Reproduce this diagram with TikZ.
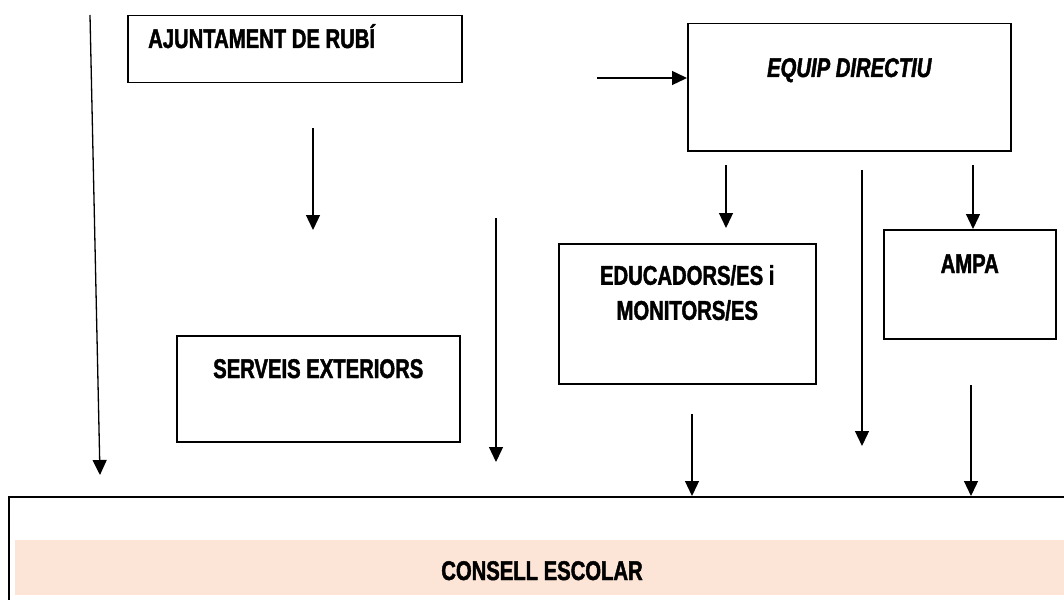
\documentclass[tikz,border=0pt]{standalone}
\usepackage{fontspec}
\setmainfont{Liberation Sans}[FakeStretch=0.75, FakeBold=1.6]
\usetikzlibrary{arrows.meta}
\definecolor{consellfill}{HTML}{FCE4D6}

\begin{document}
\begin{tikzpicture}[x=1pt, y=-1pt,
   font=\fontsize{27}{35}\selectfont\bfseries,
   box/.style={draw, rectangle, line width=1.5pt, inner sep=0pt, anchor=north west},
   arr/.style={-{Triangle[width=14pt,length=15pt]}, line width=1.3pt},
   every label/.style={inner sep=0pt, anchor=base},
   label distance=0pt]

\useasboundingbox (0,0) rectangle (1064,599);

\node[box, minimum width=334pt, minimum height=67pt,
      label={[anchor=base west, xshift=21pt, yshift=-33pt]north west:AJUNTAMENT DE RUBÍ}]
      (ajuntament) at (127,15) {};
\node[box, minimum width=323pt, minimum height=127pt,
      label={[yshift=-54pt, font=\fontsize{27}{35}\selectfont\bfseries\itshape]north:EQUIP DIRECTIU}]
      (equip) at (687,23) {};
\node[box, minimum width=283pt, minimum height=106pt,
      label={[yshift=-43pt]north:SERVEIS EXTERIORS}]
      (serveis) at (176,335) {};
\node[box, minimum width=257pt, minimum height=140pt,
      label={[anchor=north, align=center, yshift=-22pt]north:EDUCADORS/ES i\\MONITORS/ES}]
      (educadors) at (558,243) {};
\node[box, minimum width=172pt, minimum height=109pt,
      label={[yshift=-44pt]north:AMPA}]
      (ampa) at (883,229) {};

% consell escolar
\node[box, line width=2pt, minimum width=1068pt, minimum height=200pt] (consell) at (8,496) {};
\node[fill=consellfill, minimum width=1054pt, minimum height=55pt, inner sep=0pt,
      text height=25pt, text depth=0pt] (escolar) at (542,567.5) {CONSELL ESCOLAR};

% free arrows
\foreach \name/\xa/\ya/\xb/\yb in {left/90/15/100/475, ajunt/313/128/313/230,
    direcl/726/165/726/228, direcm/862/170/862/446, serv/496/218/496/462}
{
  \coordinate (\name a) at (\xa,\ya);
  \coordinate (\name b) at (\xb,\yb);
  \draw[arr] (\name a) -- (\name b);
}

\coordinate (toequip) at (597,78);
\draw[arr] (toequip) -- (toequip -| equip.west);
\coordinate (toampa) at (973,165);
\draw[arr] (toampa) -- (toampa |- ampa.north);
\coordinate (fromeduc) at (692,414);
\draw[arr] (fromeduc) -- (fromeduc |- consell.north);
\coordinate (fromampa) at (971,385);
\draw[arr] (fromampa) -- (fromampa |- consell.north);

\end{tikzpicture}
\end{document}
